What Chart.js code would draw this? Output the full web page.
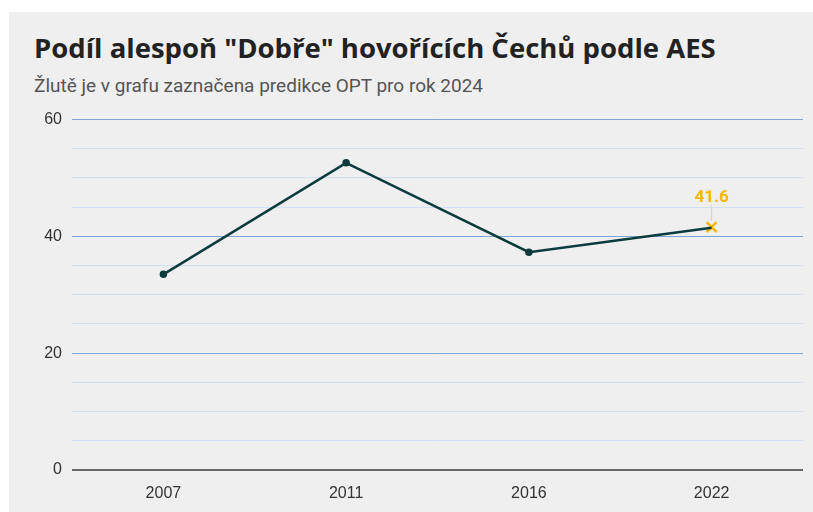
<!DOCTYPE html>
<html>
<head>
<meta charset="utf-8">
<script src="https://cdn.jsdelivr.net/npm/chart.js@4"></script>
<style>
  body { margin: 0; background: #fff; width: 813px; height: 512px; overflow: hidden; position: relative; }
  #panel { position: absolute; left: 9px; top: 12px; width: 804px; height: 500px; background: #efefef; }
  h1 { position: absolute; left: 25px; top: 22px; margin: 0; font: bold 27.5px/27.5px "Open Sans", sans-serif; color: #222; white-space: nowrap; }
  p.sub { position: absolute; left: 25px; top: 64px; margin: 0; font: 19px/19px Roboto, sans-serif; color: #555; white-space: nowrap; }
  #wrap { position: absolute; left: 0; top: 88px; width: 804px; height: 412px; }
</style>
</head>
<body>
<div id="panel">
  <h1>Podíl alespoň "Dobře" hovořících Čechů podle AES</h1>
  <p class="sub">Žlutě je v grafu zaznačena predikce OPT pro rok 2024</p>
  <div id="wrap"><canvas id="graf"></canvas></div>
</div>
<script>
const roky = ['2007', '2011', '2016', '2022'];
const podil = [33.5, 52.6, 37.3, 41.5];
const predikce = [null, null, null, 41.6];

const popisekPredikce = {
  id: 'popisekPredikce',
  afterDatasetsDraw(chart) {
    const ctx = chart.ctx;
    const meta = chart.getDatasetMeta(1);
    meta.data.forEach((bod, i) => {
      if (predikce[i] == null) return;
      ctx.save();
      ctx.strokeStyle = '#d0d0d0';
      ctx.lineWidth = 1;
      ctx.beginPath();
      ctx.moveTo(bod.x, bod.y - 6);
      ctx.lineTo(bod.x, bod.y - 22);
      ctx.stroke();
      ctx.fillStyle = '#f5b800';
      ctx.font = 'bold 17px Roboto, sans-serif';
      ctx.textAlign = 'center';
      ctx.textBaseline = 'alphabetic';
      ctx.fillText(predikce[i].toFixed(1), bod.x, bod.y - 25);
      ctx.restore();
    });
  }
};

const ctx = document.getElementById('graf').getContext('2d');
new Chart(ctx, {
  type: 'line',
  data: {
    labels: roky,
    datasets: [{
      data: podil,
      borderColor: '#0b3b3d',
      backgroundColor: '#0b3b3d',
      borderWidth: 2.5,
      pointRadius: [2.5, 2.5, 2.5, 0],
      tension: 0
    }, {
      data: predikce,
      pointStyle: 'crossRot',
      pointRadius: 7,
      borderColor: '#f5b800',
      borderWidth: 2.5,
      showLine: false
    }]
  },
  options: {
    responsive: true,
    maintainAspectRatio: false,
    animation: false,
    layout: { padding: { top: 19, right: 10, left: 0, bottom: 0 } },
    plugins: { legend: { display: false }, tooltip: { enabled: false } },
    scales: {
      x: {
        offset: true,
        grid: { display: false },
        border: { display: false },
        ticks: { color: '#333', font: { family: 'Liberation Sans', size: 16 }, padding: 6 },
        afterFit: (s) => { s.height = 42; }
      },
      y: {
        min: 0,
        max: 60,
        border: { display: false },
        grid: {
          drawTicks: false,
          color: (c) => c.tick.value === 0 ? '#666' : (c.tick.value % 20 === 0 ? '#7fa6d2' : '#d0e1f3'),
          lineWidth: (c) => c.tick.value === 0 ? 2 : 1
        },
        ticks: {
          stepSize: 5,
          padding: 10,
          color: '#333',
          font: { family: 'Liberation Sans', size: 16 },
          callback: (v) => v % 20 === 0 ? v : ''
        },
        afterFit: (s) => { s.width = 63; }
      }
    }
  },
  plugins: [popisekPredikce]
});
</script>
</body>
</html>
